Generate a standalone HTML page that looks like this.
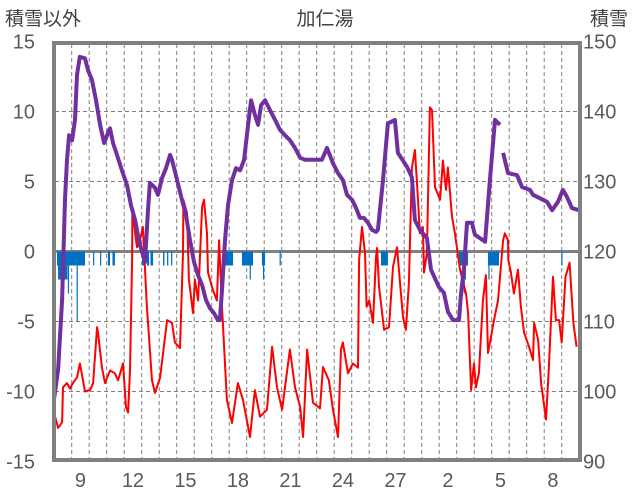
<!DOCTYPE html>
<html><head><meta charset="utf-8">
<style>
html,body{margin:0;padding:0;background:#fff;}
svg{display:block;font-family:"Liberation Sans","Noto Sans CJK JP",sans-serif;}
</style></head>
<body>
<svg id="chart" width="636" height="501" viewBox="0 0 636 501">
<rect x="0" y="0" width="636" height="501" fill="#fff"/>
<g id="grid"></g>
<g id="bars"></g>
<g id="lines"></g>
<rect x="54" y="43" width="526" height="417" fill="none" stroke="#808080" stroke-width="4"/>
<g id="labels"></g>
<text x="5" y="25" font-size="19" fill="#404040">積雪以外</text>
<text x="325" y="25" font-size="19" fill="#404040" text-anchor="middle">加仁湯</text>
<text x="590" y="25" font-size="19" fill="#404040">積雪</text>
</svg>
<script>
// ---- data ----
const leftTicks = [15, 10, 5, 0, -5, -10, -15];
const rightTicks = [150, 140, 130, 120, 110, 100, 90];
const dayLabels = ["9", "12", "15", "18", "21", "24", "27", "2", "5", "8"];
const dayLabelPos = [1.5, 4.5, 7.5, 10.5, 13.5, 16.5, 19.5, 22.5, 25.5, 28.5];
const numDays = 30;

const tempDay = [0.05,0.22,0.45,0.50,0.73,0.90,1.07,1.30,1.47,1.76,2.05,2.22,2.45,2.50,2.73,2.90,3.19,3.47,3.65,3.93,4.10,4.22,4.33,4.45,4.47,4.62,4.73,4.90,5.07,5.30,5.59,5.76,6.05,6.45,6.73,6.90,7.19,7.36,7.38,7.59,7.70,7.93,8.04,8.22,8.45,8.56,8.73,8.79,9.07,9.30,9.42,9.59,9.87,10.16,10.50,10.79,11.19,11.47,11.76,12.16,12.45,12.73,13.02,13.47,13.76,14.05,14.22,14.45,14.79,15.19,15.36,15.70,15.93,16.22,16.39,16.50,16.79,17.07,17.36,17.42,17.59,17.76,17.85,18.00,18.22,18.39,18.45,18.56,18.85,19.13,19.36,19.59,19.93,20.10,20.27,20.44,20.61,20.73,20.90,21.07,21.13,21.30,21.47,21.59,21.76,22.05,22.21,22.39,22.50,22.73,22.90,23.19,23.53,23.65,23.82,23.99,24.10,24.27,24.50,24.67,24.79,24.96,25.13,25.36,25.65,25.75,25.93,25.95,26.10,26.27,26.50,26.67,26.85,27.13,27.36,27.42,27.65,27.82,28.10,28.27,28.50,28.67,28.85,29.00,29.22,29.45,29.67,29.85];
const tempVal = [-11.8,-12.6,-12.2,-9.7,-9.4,-9.8,-9.4,-9.0,-8.0,-10.0,-9.9,-9.4,-5.4,-5.8,-8.3,-9.4,-8.5,-8.7,-9.2,-8.0,-11.1,-11.5,-8.5,-0.6,3.2,1.3,0.3,0.8,1.75,-3.95,-9.2,-10.1,-9.0,-4.9,-5.1,-6.5,-6.9,-0.1,3.7,2.75,-2.0,-4.4,-2.0,-3.5,3.2,3.7,1.3,-1.5,-2.75,-3.5,0.8,-3.95,-10.6,-12.25,-9.4,-10.6,-13.25,-9.9,-11.8,-11.3,-6.8,-9.7,-11.3,-7.0,-9.7,-11.1,-13.25,-7.0,-10.8,-11.2,-8.25,-9.2,-11.3,-13.25,-7.0,-6.5,-8.7,-8.0,-8.3,-0.6,1.75,-0.1,-3.95,-3.5,-5.1,-0.4,0.25,-2.5,-5.6,-5.4,-1.1,0.3,-4.7,-5.6,-2.25,6.0,7.25,4.9,1.3,1.75,-1.5,-0.1,10.3,10.1,4.6,3.7,6.5,4.4,6.0,2.5,1.3,-1.3,-3.0,-4.4,-9.9,-8.0,-9.7,-8.7,-3.5,-1.7,-7.25,-6.1,-4.9,-3.5,0.8,1.3,0.8,-0.6,-1.5,-3.0,-1.3,-3.95,-5.8,-6.8,-7.75,-5.1,-6.3,-9.4,-12.0,-8.25,-1.8,-4.9,-4.9,-6.5,-1.8,-0.8,-5.1,-6.8];

const snowDay = [0.00,0.22,0.45,0.62,0.73,0.85,1.02,1.19,1.30,1.46,1.76,1.93,2.16,2.39,2.62,2.85,3.07,3.19,3.36,3.59,3.87,4.16,4.39,4.62,4.85,5.02,5.19,5.36,5.47,5.76,5.93,6.16,6.39,6.62,6.73,7.02,7.30,7.53,7.76,7.99,8.22,8.45,8.67,8.90,9.13,9.36,9.47,9.59,9.76,9.93,10.16,10.39,10.62,10.85,11.08,11.25,11.47,11.65,11.82,12.05,12.33,12.62,12.90,13.19,13.47,13.76,14.05,14.33,14.90,15.30,15.59,15.93,16.22,16.50,16.73,17.02,17.25,17.47,17.70,17.93,18.16,18.39,18.50,18.79,19.07,19.47,19.64,20.16,20.44,20.61,20.90,21.30,21.53,21.99,22.27,22.50,22.79,23.13,23.25,23.42,23.59,23.87,24.04,24.62,24.90,25.19,25.47,25.56,25.65,25.93,26.45,26.74,27.19,27.36,28.16,28.45,28.79,29.07,29.30,29.58,29.98];
const snowVal = [99.1,103.1,113.1,127.4,133.1,136.6,135.9,138.8,145.2,147.8,147.6,145.9,144.5,141.6,138.1,135.5,136.9,137.6,135.5,133.8,131.6,129.5,126.6,124.5,121.4,119.9,118.5,125.9,129.8,129.1,128.1,130.5,131.9,133.8,133.1,130.2,127.4,125.2,121.6,118.5,116.6,115.2,113.1,111.9,111.2,110.2,110.2,114.5,121.6,126.6,130.2,131.9,131.6,133.1,138.1,141.6,139.5,138.1,140.9,141.6,140.2,138.8,137.4,136.6,135.9,134.8,133.4,133.1,133.1,133.1,134.8,132.6,131.2,130.2,128.1,127.4,126.2,124.8,124.8,124.1,123.1,122.8,123.1,130.2,138.3,138.8,134.1,132.1,130.6,124.5,123.1,121.9,117.4,114.9,114.1,111.4,110.2,110.2,114.1,117.8,124.1,124.1,122.4,121.4,130.2,138.8,138.1,null,134.1,131.2,130.9,129.2,128.8,128.1,127.1,125.9,127.1,128.8,127.8,126.2,125.9];

const precipStart = [0.16,0.22,0.78,1.28,2.22,2.62,3.07,3.33,5.02,5.30,5.50,6.22,6.45,6.68,9.76,10.73,11.17,11.87,11.93,12.88,18.67,23.13,23.40,23.46,24.79,24.81,28.98];
const precipEnd   = [1.76,0.76,0.84,1.33,2.28,2.68,3.19,3.47,5.22,5.42,5.65,6.30,6.52,6.75,10.22,11.36,11.23,12.05,11.98,12.94,19.07,23.65,23.45,23.50,25.42,24.86,29.03];
const precipVal   = [-1,-2,-3,-5,-1,-1,-1,-1,-1,-1,-1,-1,-1,-1,-1,-1,-2,-1,-2,-1,-1,-1,-3,-2,-1,-2,-1];

// ---- axes ----
const X0 = 54.2, DX = 17.5;
function xs(d){ return X0 + d*DX; }
function yl(v){ return 251.5 - v*14; }
function yr(cm){ return yl((cm-120)/2); }
const NS = "http://www.w3.org/2000/svg";
function mk(tag, attrs, parent){
  const e = document.createElementNS(NS, tag);
  for (const k in attrs) e.setAttribute(k, attrs[k]);
  parent.appendChild(e); return e;
}
const grid = document.getElementById('grid');
const bars = document.getElementById('bars');
const lines = document.getElementById('lines');
const labels = document.getElementById('labels');

for (let d = 1; d < numDays; d++) {
  const l = mk('line', {x1: xs(d), x2: xs(d), y1: 44, y2: 459, stroke: '#7f7f7f', 'stroke-width': 1, 'stroke-dasharray': '4,3'}, grid);
  
  
}
leftTicks.forEach(function(v){
  if (v === 15 || v === -15) return;
  const l = mk('line', {x1: 55, x2: 579, y1: yl(v), y2: yl(v), stroke: v === 0 ? '#808080' : '#7f7f7f', 'stroke-width': v === 0 ? 3 : 1, 'stroke-dasharray': v === 0 ? 'none' : '4,3'}, grid);
  
  
});

leftTicks.forEach(function(v){
  const t = mk('text', {x: 35, y: yl(v) + 7, 'font-size': 20, fill: '#595959', 'text-anchor': 'end'}, labels);
  t.textContent = v;
  
  
});
rightTicks.forEach(function(v){
  const t = mk('text', {x: 583, y: yr(v) + 7, 'font-size': 20, fill: '#595959'}, labels);
  t.textContent = v;
  
  
});
dayLabels.forEach(function(s, i){
  const t = mk('text', {x: xs(dayLabelPos[i]), y: 487, 'font-size': 20, fill: '#595959', 'text-anchor': 'middle'}, labels);
  t.textContent = s;
  
  
});

// precipitation bars
precipVal.forEach(function(v, i){
  const x1 = xs(precipStart[i]), x2 = xs(precipEnd[i]);
  const r = mk('rect', {x: x1, y: yl(0), width: Math.max(1.2, x2 - x1), height: yl(v) - yl(0), fill: '#0070c0'}, bars);
  
  
});

// lines
function pathFrom(days, vals, yf){
  let d = '', pen = false;
  for (let i = 0; i < days.length; i++) {
    if (vals[i] === null) { pen = false; continue; }
    d += (pen ? 'L' : 'M') + xs(days[i]).toFixed(1) + ',' + yf(vals[i]).toFixed(1);
    pen = true;
  }
  return d;
}
const tp = mk('path', {d: pathFrom(tempDay, tempVal, yl), fill: 'none', stroke: '#ff0000', 'stroke-width': 2, 'stroke-linejoin': 'round'}, lines);


const sp = mk('path', {d: pathFrom(snowDay, snowVal, yr), fill: 'none', stroke: '#7030a0', 'stroke-width': 4, 'stroke-linejoin': 'round'}, lines);


</script>
</body></html>
